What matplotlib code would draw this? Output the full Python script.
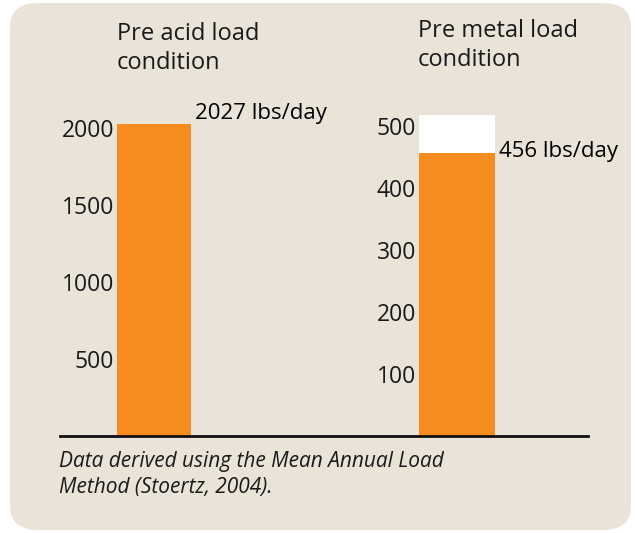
import matplotlib.pyplot as plt
from matplotlib.patches import FancyBboxPatch
from matplotlib.lines import Line2D

# data
acid_ticks = [500, 1000, 1500, 2000]
acid_load = 2027
metal_ticks = [100, 200, 300, 400, 500]
metal_load = 456
metal_top = 517   # white box above the metal bar

orange = '#F68B1F'
beige = '#E9E3D8'
W, H = 635, 533

plt.rcParams['font.family'] = ['Open Sans', 'DejaVu Sans']

fig = plt.figure(figsize=(W / 100, H / 100), dpi=100, facecolor='white')

# rounded beige panel
bg = FancyBboxPatch((10 / W, 3 / H), 621 / W, 527 / H,
                    boxstyle='round,pad=0,rounding_size=0.045',
                    transform=fig.transFigure, facecolor=beige,
                    edgecolor='none', zorder=-5)
fig.patches.append(bg)


def px_axes(left, top, width, bottom):
    # axes box from pixel coordinates (top-left origin)
    ax = fig.add_axes([left / W, 1 - bottom / H, width / W, (bottom - top) / H])
    ax.set_zorder(2)
    return ax


# left panel: acid load
ax1 = px_axes(117, 100, 74, 436)
ax1.bar([0], [acid_load], width=1, color=orange, zorder=2)
ax1.set_xlim(-0.5, 0.5)
ax1.set_ylim(0, 2182)
ax1.set_yticks(acid_ticks)
ax1.text(1.05, acid_load, '2027 lbs/day', transform=ax1.get_yaxis_transform(),
         fontsize=16, va='bottom', ha='left', clip_on=False)

# right panel: metal load
ax2 = px_axes(419, 100, 76, 436)
ax2.bar([0], [metal_top], width=1, color='white', zorder=1)
ax2.bar([0], [metal_load], width=1, color=orange, zorder=2)
ax2.set_xlim(-0.5, 0.5)
ax2.set_ylim(0, 542)
ax2.set_yticks(metal_ticks)
ax2.text(1.05, metal_load + 3, '456 lbs/day', transform=ax2.get_yaxis_transform(),
         fontsize=16, va='center', ha='left', clip_on=False)

for ax in (ax1, ax2):
    ax.set_facecolor('none')
    for s in ax.spines.values():
        s.set_visible(False)
    ax.set_xticks([])
    ax.tick_params(axis='y', length=0, pad=2, labelsize=16.5, colors='#1a1a1a')

# titles
fig.text(117 / W, 1 - 22 / H, 'Pre acid load\ncondition', fontsize=17,
         va='top', ha='left', linespacing=1.3, color='#1a1a1a')
fig.text(418 / W, 1 - 19 / H, 'Pre metal load\ncondition', fontsize=17,
         va='top', ha='left', linespacing=1.3, color='#1a1a1a')

# baseline across both panels
fig.add_artist(Line2D([60 / W, 588 / W], [1 - 436 / H, 1 - 436 / H],
                      transform=fig.transFigure, color='#111111', lw=2, zorder=3))

# footnote
fig.text(59 / W, 1 - 451 / H,
         'Data derived using the Mean Annual Load\nMethod (Stoertz, 2004).',
         fontsize=15, style='italic', va='top', ha='left',
         linespacing=1.3, color='#1a1a1a')

fig.savefig('out.png', dpi=100, facecolor='white')
